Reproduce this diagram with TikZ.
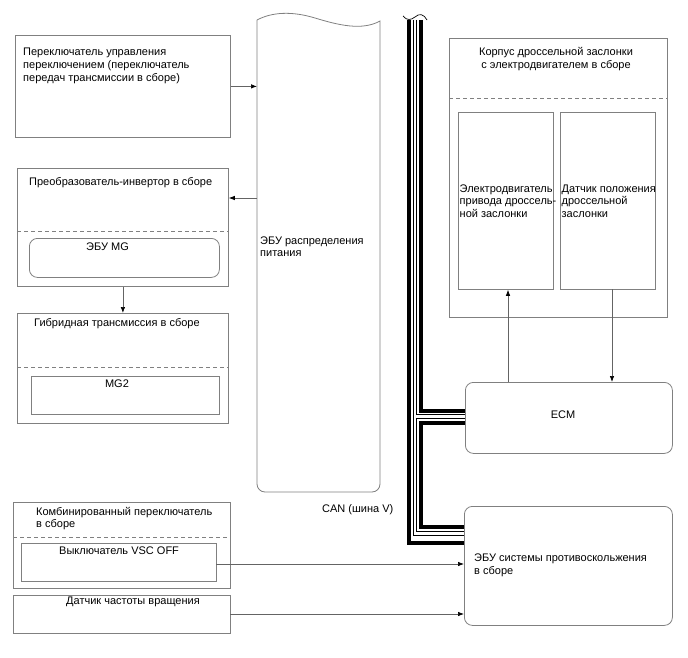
\documentclass[tikz,border=0pt]{standalone}
\usepackage{fontspec}
\setmainfont{Liberation Sans}
\usetikzlibrary{arrows.meta,calc}
\definecolor{bordergray}{RGB}{128,128,128}
\definecolor{arrowgray}{RGB}{100,100,100}
\begin{document}
\begin{tikzpicture}[x=1pt,y=-1pt,
  box/.style={draw=bordergray,line width=0.8pt,inner sep=0pt,anchor=north west},
  rbox/.style={box,rounded corners=8pt},
  lbl/.style={inner sep=0pt,anchor=north west,align=left,font=\fontsize{11}{12.5}\selectfont},
  sep/.style={draw=bordergray,line width=0.8pt,dash pattern=on 4pt off 3pt},
  arr/.style={draw=arrowgray,line width=0.7pt,-{Latex[length=6pt,width=4.5pt,color=black]}},
  busthick/.style={draw=black,line width=4pt},
  busthin/.style={draw=black,line width=1pt},
]
\useasboundingbox (0,0) rectangle (688,658);

% ---------- left column ----------
\node[box,minimum width=215pt,minimum height=102pt] (b1) at (15,35) {};
\node[lbl,font=\fontsize{11}{13.3}\selectfont] (b1t) at (23,47.5) {Переключатель управления\\переключением (переключатель\\передач трансмиссии в сборе)};

\node[box,minimum width=211pt,minimum height=118pt] (inv) at (17,168) {};
\node[lbl] (invt) at (29,177.5) {Преобразователь-инвертор в сборе};
\draw[sep] (inv.west |- 0,231) -- (inv.east |- 0,231);
\node[rbox,minimum width=190pt,minimum height=39pt] (mgecu) at (29,238) {};
\node[lbl] (mgecut) at (86,242.5) {ЭБУ MG};

\node[box,minimum width=211pt,minimum height=110pt] (hyb) at (17,313) {};
\node[lbl] (hybt) at (34,318.5) {Гибридная трансмиссия в сборе};
\draw[sep] (hyb.west |- 0,367) -- (hyb.east |- 0,367);
\node[box,minimum width=188pt,minimum height=38pt] (mg2) at (31,376) {};
\node[lbl,anchor=north] (mg2t) at (117,379.5) {MG2};

\node[box,minimum width=217pt,minimum height=86pt] (comb) at (13,502) {};
\node[lbl,font=\fontsize{11}{11.5}\selectfont] (combt) at (36,507.5) {Комбинированный переключатель\\в сборе};
\draw[sep] (comb.west |- 0,537) -- (comb.east |- 0,537);
\node[box,minimum width=195pt,minimum height=38pt] (vsc) at (21,543) {};
\node[lbl] (vsct) at (59,546.5) {Выключатель VSC OFF};

\node[box,minimum width=217pt,minimum height=38pt] (spd) at (13,595) {};
\node[lbl] (spdt) at (66,596.5) {Датчик частоты вращения};

% ---------- power distribution ECU ----------
\node[inner sep=0pt,anchor=north west,minimum width=123pt,minimum height=472pt] (ebu) at (257,20) {};
\draw[bordergray,line width=0.8pt]
  (257,20) .. controls (272,12) and (292,11) .. (315,18)
  .. controls (338,25) and (362,31) .. (380,21)
  [rounded corners=8pt] -- (380,492) -- (257,492) [sharp corners] -- (257,20);
\node[lbl] (ebut) at (260,236.5) {ЭБУ распределения\\питания};

% ---------- throttle body ----------
\node[box,minimum width=218pt,minimum height=279pt] (thr) at (449,38) {};
\node[lbl,anchor=north,align=center] (thrt) at (556,47.5) {Корпус дроссельной заслонки\\с электродвигателем в сборе};
\draw[sep] (thr.west |- 0,98) -- (thr.east |- 0,98);
\node[box,minimum width=95pt,minimum height=177pt] (mot) at (458,112) {};
\node[lbl] (mott) at (459.5,184.5) {Электродвигатель\\привода дроссель-\\ной заслонки};
\node[box,minimum width=95pt,minimum height=177pt] (tps) at (560,112) {};
\node[lbl] (tpst) at (561.5,184.5) {Датчик положения\\дроссельной\\заслонки};

% ---------- ECM and skid control ECU ----------
\node[rbox,minimum width=207pt,minimum height=71pt] (ecm) at (465,382) {};
\node[inner sep=0pt,font=\fontsize{11}{12.5}\selectfont] (ecmt) at (563,415) {ECM};
\node[rbox,minimum width=208pt,minimum height=119pt] (abs) at (464,506) {};
\node[lbl,font=\fontsize{11}{13.3}\selectfont] (abst) at (474,553.5) {ЭБУ системы противоскольжения\\в сборе};

\node[lbl] (cant) at (322,504.5) {CAN (шина V)};

% ---------- connectors ----------
\draw[arr] (b1.east) -- (b1.east -| ebu.west);
\coordinate (c1) at (257,198);
\draw[arr] (c1) -- (c1 -| inv.east);
\draw[arr] (inv.south) -- (inv.south |- hyb.north);
\coordinate (c2) at (508,382);
\draw[arr] (c2) -- (c2 |- mot.south);
\coordinate (c3) at (612,289);
\draw[arr] (c3) -- (c3 |- ecm.north);
\coordinate (c4) at (216,564);
\draw[arr] (c4) -- (c4 -| abs.west);
\coordinate (c5) at (230,614);
\draw[arr] (c5) -- (c5 -| abs.west);

% ---------- CAN bus ----------
\coordinate (ya) at (0,410.5);
\coordinate (yb) at (0,414.5);
\coordinate (yc) at (0,418.5);
\coordinate (yd) at (0,423);
\coordinate (y1) at (0,526.5);
\coordinate (y2) at (0,531);
\coordinate (y3) at (0,535);
\coordinate (y4) at (0,543);
\coordinate (L1) at (409,20);
\coordinate (L2) at (413.5,20);
\coordinate (L3) at (416.5,20);
\coordinate (L4) at (420.5,20);
\draw[busthick] (L1) |- (abs.west |- y4);
\draw[busthin] (L2) |- (abs.west |- y3);
\draw[busthin] (L3) |- (ecm.west |- yb);
\draw[busthin] (ecm.west |- yc) -| (L3 |- y2) -- (abs.west |- y2);
\draw[busthick] (L4) |- (ecm.west |- ya);
\draw[busthick] (ecm.west |- yd) -| (L4 |- y1) -- (abs.west |- y1);
\draw[black,line width=0.7pt] (403,16) .. controls (407,21) and (411,20) .. (415,17)
  .. controls (419,13) and (424,14) .. (427,20);
\end{tikzpicture}
\end{document}
